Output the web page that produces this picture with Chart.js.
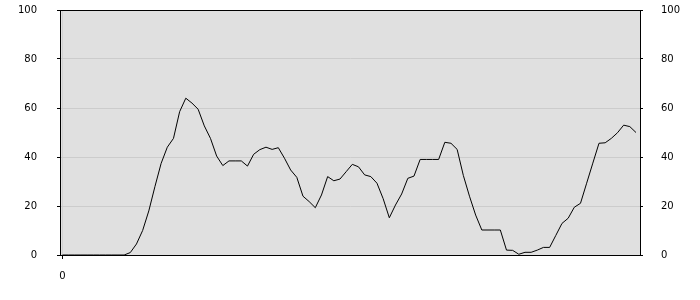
<!DOCTYPE html>
<html>
<head>
<meta charset="utf-8">
<script src="https://cdn.jsdelivr.net/npm/chart.js@4.4.1/dist/chart.umd.min.js"></script>
<style>
  html, body { margin: 0; padding: 0; background: #ffffff; }
  #wrap { width: 700px; height: 300px; }
</style>
</head>
<body>
<div id="wrap"><canvas id="trend-chart" width="700" height="300"></canvas></div>
<script>
// Valores de la serie, un punto por intervalo (índice 0..93).
const seriesValues = [
  0, 0, 0, 0, 0, 0, 0, 0, 0, 0,
  0, 1, 4.5, 10, 18, 28, 37.4, 44, 47.6, 58.5,
  64, 62, 59.5, 52.7, 47.6, 40.4, 36.5, 38.4, 38.4, 38.4,
  36.3, 41.1, 43, 44, 43.1, 43.8, 39.5, 34.7, 31.7, 24,
  21.8, 19.3, 24.5, 32, 30.3, 31, 34, 37, 36, 32.7,
  32, 29.3, 23, 15.2, 20.4, 24.9, 31.3, 32.2, 39, 39,
  39, 39, 46, 45.6, 43.1, 32.5, 24, 16.3, 10.2, 10.2,
  10.2, 10.2, 2, 1.9, 0.3, 1.1, 1.1, 2, 3.1, 3.1,
  8, 12.9, 15, 19.5, 21.1, 29.3, 37.5, 45.6, 45.8, 47.6,
  49.9, 53, 52.4, 50
];

// Marcas del eje X (solo se rotula el origen).
const xTickValues = [0];
const xTickLabels = ['0'];

// Marcas de los ejes Y (izquierdo y derecho).
const yTickValues = [0, 20, 40, 60, 80, 100];

(function () {
  'use strict';

  const font = { family: 'DejaVu Sans', size: 10 };

  // Fondo gris y marco negro del área de trazado.
  const plotFrame = {
    id: 'plotFrame',
    beforeDraw: function (chart) {
      const a = chart.chartArea;
      const ctx = chart.ctx;
      ctx.save();
      ctx.fillStyle = '#e0e0e0';
      ctx.fillRect(a.left, a.top, a.right - a.left, a.bottom - a.top);
      ctx.restore();
    },
    afterDatasetsDraw: function (chart) {
      const a = chart.chartArea;
      const ctx = chart.ctx;
      ctx.save();
      ctx.strokeStyle = '#000000';
      ctx.lineWidth = 1;
      ctx.strokeRect(Math.round(a.left) + 0.5, Math.round(a.top) + 0.5,
        Math.round(a.right - a.left), Math.round(a.bottom - a.top));
      ctx.restore();
    }
  };

  // Ancho fijo y sin relleno extra, para que el área quede en 60..640 x 10..255.
  function fixY(scale) {
    scale.width = 60;
    scale.paddingTop = 0;
    scale.paddingBottom = 0;
  }

  function yAxis(position, padding) {
    return {
      type: 'linear',
      position: position,
      min: 0,
      max: 100,
      afterBuildTicks: function (scale) {
        scale.ticks = yTickValues.map(function (v) { return { value: v }; });
      },
      afterFit: fixY,
      grid: {
        display: true,
        color: function (c) {
          return (c.tick && (c.tick.value === 0 || c.tick.value === 100)) ? 'rgba(0,0,0,0)' : '#cccccc';
        },
        drawOnChartArea: position === 'left',
        drawTicks: true,
        tickLength: 3,
        tickColor: '#000000'
      },
      border: { display: true, color: '#000000', width: 1 },
      ticks: {
        color: '#000000',
        font: font,
        padding: padding
      }
    };
  }

  new Chart(document.getElementById('trend-chart'), {
    type: 'line',
    data: {
      datasets: [{
        data: seriesValues.map(function (v, i) { return { x: i, y: v }; }),
        borderColor: '#000000',
        borderWidth: 1,
        pointRadius: 0,
        tension: 0,
        fill: false,
        yAxisID: 'y'
      }]
    },
    options: {
      responsive: false,
      animation: false,
      devicePixelRatio: 1,
      layout: { padding: { top: 10, bottom: 0, left: 0, right: 0 } },
      plugins: {
        legend: { display: false },
        tooltip: { enabled: false }
      },
      scales: {
        x: {
          type: 'linear',
          position: 'bottom',
          min: -0.4,
          max: 93.65,
          afterBuildTicks: function (scale) {
            scale.ticks = xTickValues.map(function (v) { return { value: v }; });
          },
          afterFit: function (scale) {
            scale.height = 45;
            scale.paddingLeft = 0;
            scale.paddingRight = 0;
          },
          grid: {
            color: '#d2d2d2',
            tickLength: 4,
            tickColor: '#000000'
          },
          border: { display: true, color: '#000000', width: 1 },
          ticks: {
            color: '#000000',
            font: font,
            padding: 11,
            maxRotation: 0,
            callback: function (value, index) {
              return xTickLabels[index];
            }
          }
        },
        y: yAxis('left', 20),
        y2: yAxis('right', 18)
      }
    },
    plugins: [plotFrame]
  });
})();
</script>
</body>
</html>
